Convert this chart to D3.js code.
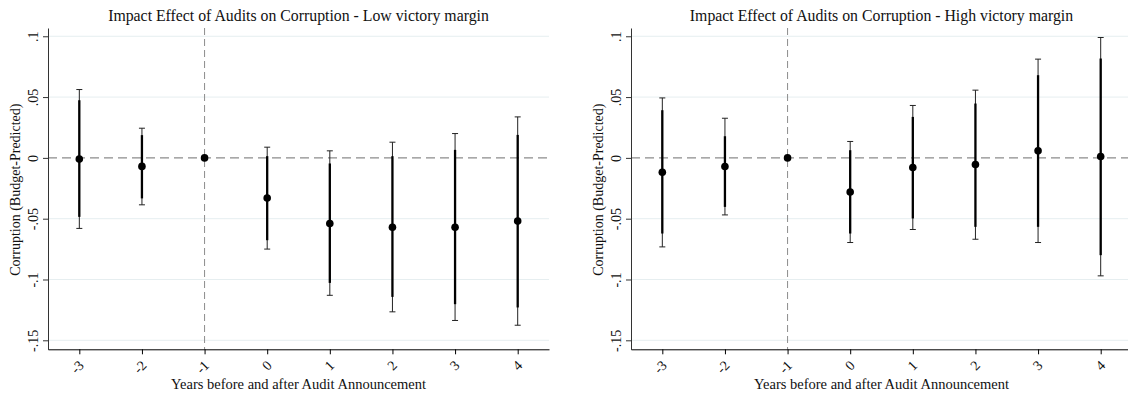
<!DOCTYPE html>
<html>
<head>
<meta charset="utf-8">
<script src="https://cdn.jsdelivr.net/npm/d3@7"></script>
<style>
  body { margin: 0; background: #fff; }
  svg text { font-family: "Liberation Serif", "Times New Roman", serif; }
</style>
</head>
<body>
<div id="chart"></div>
<script>
// event-study years and estimates
const years = [-3, -2, -1, 0, 1, 2, 3, 4];
const yTicks = [-0.15, -0.1, -0.05, 0, 0.05, 0.1];
const yTickLabels = ["-.15", "-.1", "-.05", "0", ".05", ".1"];

// low victory margin
const lowCoef = [-0.001, -0.007, 0, -0.033, -0.054, -0.057, -0.057, -0.052];
const lowLo95 = [-0.058, -0.0386, null, -0.075, -0.113, -0.1266, -0.1337, -0.1376];
const lowHi95 = [0.0562, 0.0244, null, 0.0088, 0.0058, 0.0129, 0.020, 0.0337];
const lowLo90 = [-0.0485, -0.0333, null, -0.0677, -0.1028, -0.1143, -0.1203, -0.123];
const lowHi90 = [0.0474, 0.0187, null, 0.0014, -0.0046, 0.0014, 0.0066, 0.0189];

// high victory margin
const highCoef = [-0.0118, -0.0071, 0, -0.028, -0.0079, -0.0054, 0.0058, 0.0011];
const highLo95 = [-0.0732, -0.0469, null, -0.0696, -0.0589, -0.0669, -0.0696, -0.097];
const highHi95 = [0.0493, 0.0326, null, 0.0135, 0.0431, 0.0557, 0.0812, 0.099];
const highLo90 = [-0.0622, -0.0403, null, -0.0622, -0.0498, -0.0567, -0.0567, -0.080];
const highHi90 = [0.0392, 0.0178, null, 0.0063, 0.0337, 0.0447, 0.068, 0.0817];

const W = 1128, H = 393;
const svg = d3.select("#chart").append("svg")
  .attr("width", W)
  .attr("height", H);

const plotW = 501, plotTop = 28, plotBottom = 349.3;

function drawPanel(left, title, coef, lo95, hi95, lo90, hi90) {
  const g = svg.append("g").attr("transform", `translate(${left},0)`);

  const x = d3.scaleLinear().domain([-3.5, 4.5]).range([0, plotW]);
  const y = d3.scaleLinear().domain([-0.1574, 0.1068]).range([plotBottom, plotTop]);

  const data = years.map((yr, i) => ({
    yr: yr, b: coef[i], lo95: lo95[i], hi95: hi95[i], lo90: lo90[i], hi90: hi90[i]
  }));

  // grid lines
  g.selectAll(".grid")
    .data(yTicks.filter(d => d !== 0))
    .join("line")
      .attr("x1", 0).attr("x2", plotW)
      .attr("y1", d => y(d)).attr("y2", d => y(d))
      .attr("stroke", "#e6eef0")
      .attr("stroke-width", 1);

  // reference lines
  g.append("line")
    .attr("x1", 0).attr("x2", plotW)
    .attr("y1", y(0)).attr("y2", y(0))
    .attr("stroke", "#8c8c8c")
    .attr("stroke-width", 1.3)
    .attr("stroke-dasharray", "9,5");

  g.append("line")
    .attr("x1", x(-1)).attr("x2", x(-1))
    .attr("y1", plotTop).attr("y2", plotBottom)
    .attr("stroke", "#8c8c8c")
    .attr("stroke-width", 1)
    .attr("stroke-dasharray", "7,4");

  const ci = data.filter(d => d.lo95 !== null);

  // 95% intervals, thin with caps
  g.selectAll(".ci95")
    .data(ci)
    .join("line")
      .attr("x1", d => x(d.yr)).attr("x2", d => x(d.yr))
      .attr("y1", d => y(d.lo95)).attr("y2", d => y(d.hi95))
      .attr("stroke", "#222")
      .attr("stroke-width", 1);

  g.selectAll(".capLo")
    .data(ci)
    .join("line")
      .attr("x1", d => x(d.yr) - 3).attr("x2", d => x(d.yr) + 3)
      .attr("y1", d => y(d.lo95)).attr("y2", d => y(d.lo95))
      .attr("stroke", "#222");

  g.selectAll(".capHi")
    .data(ci)
    .join("line")
      .attr("x1", d => x(d.yr) - 3).attr("x2", d => x(d.yr) + 3)
      .attr("y1", d => y(d.hi95)).attr("y2", d => y(d.hi95))
      .attr("stroke", "#222");

  // 90% intervals, thick
  g.selectAll(".ci90")
    .data(ci)
    .join("line")
      .attr("x1", d => x(d.yr)).attr("x2", d => x(d.yr))
      .attr("y1", d => y(d.lo90)).attr("y2", d => y(d.hi90))
      .attr("stroke", "#000")
      .attr("stroke-width", 2.3);

  // points
  g.selectAll(".pt")
    .data(data)
    .join("circle")
      .attr("cx", d => x(d.yr))
      .attr("cy", d => y(d.b))
      .attr("r", 3.8)
      .attr("fill", "#000");

  // y axis
  const ya = g.append("g")
    .call(d3.axisLeft(y)
      .tickValues(yTicks)
      .tickFormat((d, i) => yTickLabels[i])
      .tickSize(5)
      .tickSizeOuter(0));
  ya.select(".domain").attr("stroke", "#333");
  ya.selectAll(".tick line").attr("stroke", "#333");
  ya.selectAll(".tick text")
    .attr("transform", "rotate(-90)")
    .attr("x", 0).attr("y", -10.5).attr("dy", null)
    .attr("text-anchor", "middle")
    .attr("font-size", 14)
    .attr("fill", "#111");

  // x axis
  const xa = g.append("g")
    .attr("transform", `translate(0,${plotBottom})`)
    .call(d3.axisBottom(x)
      .tickValues(years)
      .tickFormat(d => String(d))
      .tickSize(5)
      .tickSizeOuter(0));
  xa.select(".domain").attr("stroke", "#000");
  xa.selectAll(".tick text")
    .attr("transform", "translate(5,17) rotate(-45)")
    .attr("x", 0).attr("y", 0).attr("dy", null)
    .attr("text-anchor", "end")
    .attr("font-size", 14)
    .attr("fill", "#111");

  // titles
  g.append("text")
    .attr("x", plotW / 2).attr("y", 21)
    .attr("text-anchor", "middle")
    .attr("font-size", 15.8)
    .attr("fill", "#111")
    .text(title);

  g.append("text")
    .attr("x", plotW / 2).attr("y", 389)
    .attr("text-anchor", "middle")
    .attr("font-size", 14.5)
    .attr("fill", "#111")
    .text("Years before and after Audit Announcement");

  g.append("text")
    .attr("transform", `translate(-28,${(plotTop + plotBottom) / 2 + 1}) rotate(-90)`)
    .attr("text-anchor", "middle")
    .attr("font-size", 14)
    .attr("fill", "#111")
    .text("Corruption (Budget-Predicted)");
}

drawPanel(48, "Impact Effect of Audits on Corruption - Low victory margin",
  lowCoef, lowLo95, lowHi95, lowLo90, lowHi90);
drawPanel(631, "Impact Effect of Audits on Corruption - High victory margin",
  highCoef, highLo95, highHi95, highLo90, highHi90);
</script>
</body>
</html>
